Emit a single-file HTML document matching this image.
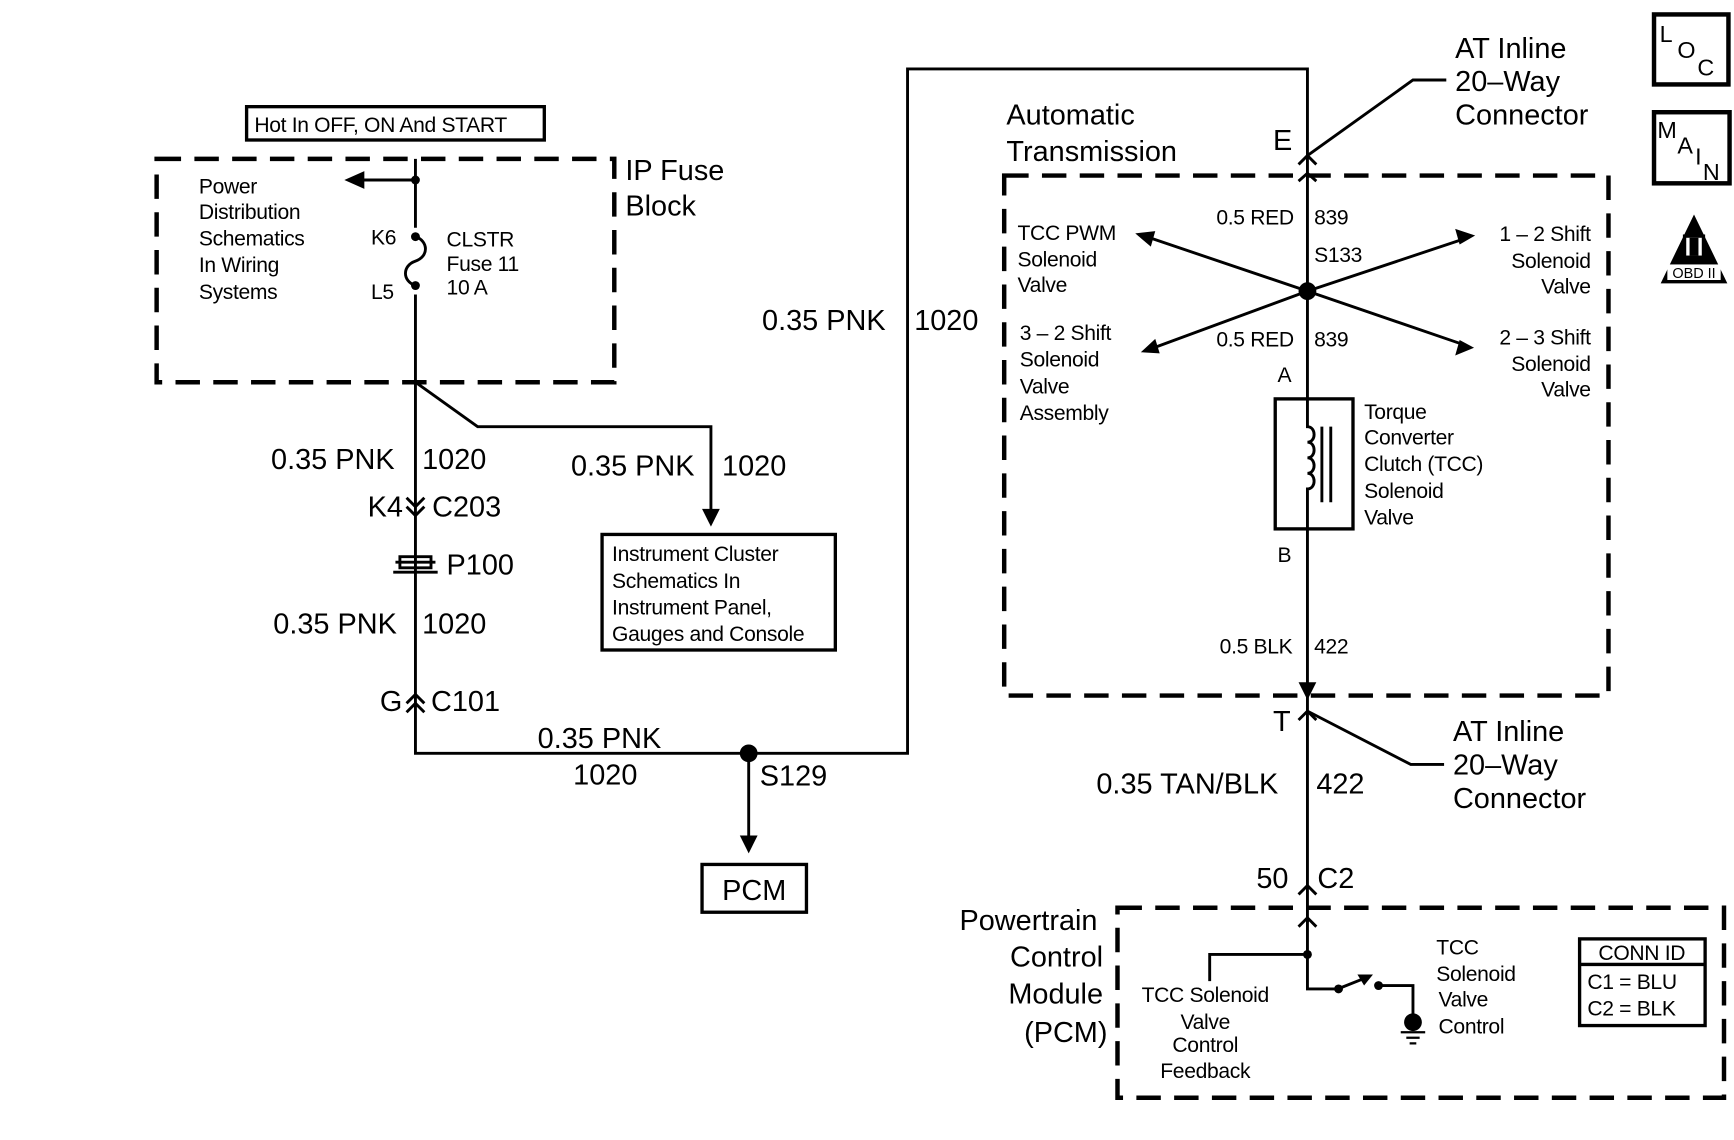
<!DOCTYPE html>
<html><head><meta charset="utf-8"><style>
html,body{margin:0;padding:0;background:#fff;width:1734px;height:1140px;overflow:hidden}
svg{display:block}
text{font-family:"Liberation Sans",sans-serif;fill:#000}
.b{font-size:26px}.s{font-size:19px;letter-spacing:-0.3px}
</style></head><body>
<svg width="1734" height="1140" viewBox="0 0 1561 1026" preserveAspectRatio="none" xmlns="http://www.w3.org/2000/svg">
<g fill="none" stroke="#000" stroke-width="2.6">
<rect x="222" y="96" width="268" height="30" stroke-width="3"/>
<g stroke-width="4" stroke-dasharray="22 12">
<rect x="141" y="143" width="412" height="201"/>
<rect x="904" y="158" width="544" height="468"/>
<rect x="1006" y="817" width="546" height="171"/>
</g>
<path d="M374 143 V205 M374 265 V678 H817 V62 H1177 V830"/>
<path d="M374 213 c12 4 12 18 0 22 c-12 4 -12 18 0 22"/>
<path d="M374 162 H322"/>
<path d="M374 344 L430 384 H640 V462"/>
<path d="M674 678 V756"/>
<path d="M366 448 L374 456 L382 448 M366 456 L374 464 L382 456"/>
<path d="M356 506 H392 M360 501 H388 V511 H360 Z M354 515 H394"/>
<path d="M366 633 L374 625 L382 633 M366 641 L374 633 L382 641"/>
<path d="M1169 148 L1177 140 L1185 148 M1169 163 L1177 156 L1185 163"/>
<path d="M1177 140 L1272 72 H1302"/>
<path d="M1177 262 L1032 213 M1177 262 L1318 215 M1177 262 L1036 314 M1177 262 L1317 310"/>
<rect x="1148" y="359" width="70" height="117" fill="#fff" stroke-width="3"/>
<path d="M1177 359 V384 c8 0 8 14 0 14 c8 0 8 14 0 14 c8 0 8 14 0 14 c8 0 8 14 0 14 V476"/>
<path d="M1190 384 V452 M1198 384 V452"/>
<path d="M1169 648 L1177 640 L1185 648"/>
<path d="M1177 640 L1270 688 H1300"/>
<path d="M1169 805 L1177 797 L1185 805"/>
<path d="M1169 834 L1177 826 L1185 834 M1177 826 V890 H1205"/>
<path d="M1089 883 V859 H1177"/>
<path d="M1207 889 L1232 879"/>
<path d="M1241 887 H1272 V915"/>
<path d="M1261 929 H1283 M1266 934 H1278 M1269 939 H1275" stroke-width="2"/>
<rect x="1422" y="845" width="113" height="78" stroke-width="3"/>
<path d="M1422 868 H1535" stroke-width="3"/>
<rect x="1489" y="13" width="67" height="63" stroke-width="4"/>
<rect x="1489" y="101" width="68" height="64" stroke-width="4"/>
</g>
<g fill="#000">
<circle cx="374" cy="162" r="4"/><circle cx="374" cy="213" r="4"/><circle cx="374" cy="257" r="4"/>
<circle cx="674" cy="678" r="8"/><circle cx="1177" cy="262" r="8"/>
<circle cx="1177" cy="859" r="4"/><circle cx="1205" cy="890" r="4"/><circle cx="1241" cy="887" r="4"/>
<circle cx="1272" cy="920" r="8"/>
<polygon points="310,162 328,154 328,170"/>
<polygon points="640,474 632,458 648,458"/>
<polygon points="674,768 666,752 682,752"/>
<polygon points="1022,210 1040,208 1036,222"/>
<polygon points="1328,212 1310,206 1314,220"/>
<polygon points="1027,317 1040,305 1044,318"/>
<polygon points="1327,313 1310,320 1314,306"/>
<polygon points="1177,630 1169,614 1185,614"/>
<polygon points="1236,877 1222,877 1228,887"/>
<polygon points="1525,193 1495,255 1555,255"/>
</g>
<rect x="1501" y="238" width="48" height="14" fill="#fff"/>
<rect x="1518" y="212" width="14" height="20" fill="#fff"/>
<rect x="1521" y="214" width="8" height="16" fill="#000"/>
<rect x="1515" y="211" width="20" height="3" fill="#000"/><rect x="1515" y="230" width="20" height="3" fill="#000"/>
<text x="1525" y="250" style="font-size:13px" text-anchor="middle">OBD II</text>
<text x="1494" y="38" style="font-size:21px">L</text><text x="1510" y="52" style="font-size:21px">O</text><text x="1528" y="68" style="font-size:21px">C</text>
<text x="1492" y="124" style="font-size:21px">M</text><text x="1510" y="138" style="font-size:21px">A</text><text x="1526" y="148" style="font-size:21px">I</text><text x="1533" y="162" style="font-size:21px">N</text>

<text x="229" y="119" class="s">Hot In OFF, ON And START</text>
<text class="s"><tspan x="179" y="174">Power</tspan><tspan x="179" y="197">Distribution</tspan><tspan x="179" y="221">Schematics</tspan><tspan x="179" y="245">In Wiring</tspan><tspan x="179" y="269">Systems</tspan></text>
<text x="334" y="220" class="s">K6</text><text x="334" y="269" class="s">L5</text>
<text class="s"><tspan x="402" y="222">CLSTR</tspan><tspan x="402" y="244">Fuse 11</tspan><tspan x="402" y="265">10 A</tspan></text>
<text class="b"><tspan x="563" y="162">IP Fuse</tspan><tspan x="563" y="194">Block</tspan></text>
<text x="244" y="422" class="b">0.35 PNK</text><text x="380" y="422" class="b">1020</text>
<text x="331" y="465" class="b">K4</text><text x="389" y="465" class="b">C203</text>
<text x="402" y="517" class="b">P100</text>
<text x="246" y="570" class="b">0.35 PNK</text><text x="380" y="570" class="b">1020</text>
<text x="342" y="640" class="b">G</text><text x="388" y="640" class="b">C101</text>
<text x="514" y="428" class="b">0.35 PNK</text><text x="650" y="428" class="b">1020</text>
<text class="s"><tspan x="551" y="505">Instrument Cluster</tspan><tspan x="551" y="529">Schematics In</tspan><tspan x="551" y="553">Instrument Panel,</tspan><tspan x="551" y="577">Gauges and Console</tspan></text>
<rect x="542" y="481" width="210" height="104" fill="none" stroke="#000" stroke-width="3"/>
<text x="484" y="673" class="b">0.35 PNK</text><text x="516" y="706" class="b">1020</text><text x="684" y="707" class="b">S129</text>
<rect x="632" y="778" width="94" height="43" fill="none" stroke="#000" stroke-width="3"/>
<text x="679" y="810" class="b" text-anchor="middle">PCM</text>
<text x="686" y="297" class="b">0.35 PNK</text><text x="823" y="297" class="b">1020</text>
<text class="b"><tspan x="906" y="112">Automatic</tspan><tspan x="906" y="145">Transmission</tspan></text>
<text x="1146" y="135" class="b">E</text>
<text class="b"><tspan x="1310" y="52">AT Inline</tspan><tspan x="1310" y="82">20–Way</tspan><tspan x="1310" y="112">Connector</tspan></text>
<text x="1095" y="202" class="s">0.5 RED</text><text x="1183" y="202" class="s">839</text>
<text x="1183" y="236" class="s">S133</text>
<text x="1095" y="312" class="s">0.5 RED</text><text x="1183" y="312" class="s">839</text>
<text x="1150" y="344" class="s">A</text><text x="1150" y="506" class="s">B</text>
<text x="1098" y="588" class="s">0.5 BLK</text><text x="1183" y="588" class="s">422</text>
<text class="s"><tspan x="916" y="216">TCC PWM</tspan><tspan x="916" y="240">Solenoid</tspan><tspan x="916" y="263">Valve</tspan></text>
<text class="s"><tspan x="918" y="306">3 – 2 Shift</tspan><tspan x="918" y="330">Solenoid</tspan><tspan x="918" y="354">Valve</tspan><tspan x="918" y="378">Assembly</tspan></text>
<text class="s" text-anchor="end"><tspan x="1432" y="217">1 – 2 Shift</tspan><tspan x="1432" y="241">Solenoid</tspan><tspan x="1432" y="264">Valve</tspan></text>
<text class="s" text-anchor="end"><tspan x="1432" y="310">2 – 3 Shift</tspan><tspan x="1432" y="334">Solenoid</tspan><tspan x="1432" y="357">Valve</tspan></text>
<text class="s"><tspan x="1228" y="377">Torque</tspan><tspan x="1228" y="400">Converter</tspan><tspan x="1228" y="424">Clutch (TCC)</tspan><tspan x="1228" y="448">Solenoid</tspan><tspan x="1228" y="472">Valve</tspan></text>
<text x="1146" y="658" class="b">T</text>
<text class="b"><tspan x="1308" y="667">AT Inline</tspan><tspan x="1308" y="697">20–Way</tspan><tspan x="1308" y="727">Connector</tspan></text>
<text x="987" y="714" class="b">0.35 TAN/BLK</text><text x="1185" y="714" class="b">422</text>
<text x="1131" y="799" class="b">50</text><text x="1186" y="799" class="b">C2</text>
<text class="b" text-anchor="end"><tspan x="988" y="837">Powertrain</tspan><tspan x="993" y="870">Control</tspan><tspan x="993" y="903">Module</tspan><tspan x="997" y="938">(PCM)</tspan></text>
<text class="s" text-anchor="middle"><tspan x="1085" y="902">TCC Solenoid</tspan><tspan x="1085" y="926">Valve</tspan><tspan x="1085" y="947">Control</tspan><tspan x="1085" y="970">Feedback</tspan></text>
<text class="s"><tspan x="1293" y="859">TCC</tspan><tspan x="1293" y="883">Solenoid</tspan><tspan x="1295" y="906">Valve</tspan><tspan x="1295" y="930">Control</tspan></text>
<text x="1478" y="864" class="s" text-anchor="middle">CONN ID</text>
<text class="s"><tspan x="1429" y="890">C1  =  BLU</tspan><tspan x="1429" y="914">C2  =  BLK</tspan></text>
</svg>
</body></html>
